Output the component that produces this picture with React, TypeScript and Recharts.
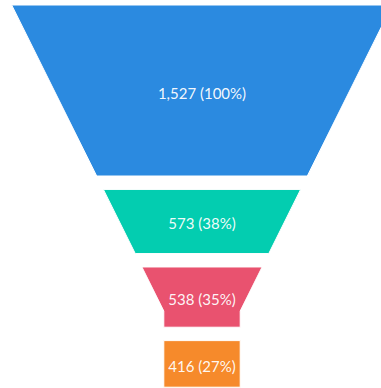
import React from 'react';
import { BarChart, Bar, XAxis, YAxis } from 'recharts';

const STAGES = ['Stage 1', 'Stage 2', 'Stage 3', 'Stage 4'];
const VALUES = [1527, 573, 538, 416];
const COLORS = ['#2b8ae0', '#03cdb0', '#e9526f', '#f68a2b'];

const TOTAL = VALUES.reduce((a, b) => a + b, 0);
const row: Record<string, number | string> = { name: 'Funnel' };
STAGES.forEach((_, i) => {
  row['v' + i] = VALUES[i];
});
const DATA = [row];

// funnel outline geometry (pixels in chart coordinates)
const GAP = 13.4;
const TOP_Y = 5;
const NECK_Y = 311;
const HALF_TOP = 190.3;
const HALF_NECK = 38.2;

const halfWidth = (yy: number) =>
  yy >= NECK_Y
    ? HALF_NECK
    : HALF_TOP - ((HALF_TOP - HALF_NECK) * (yy - TOP_Y)) / (NECK_Y - TOP_Y);

const fmt = (n: number) => n.toLocaleString('en-US');

const Slice = (props: any) => {
  const { x, y, width, height, idx } = props;
  const top = Math.min(y, y + height) + idx * GAP;
  const h = Math.abs(height);
  const bot = top + h;
  const cx = x + width / 2;
  const pts: [number, number][] = [];
  pts.push([cx - halfWidth(top), top]);
  pts.push([cx + halfWidth(top), top]);
  if (top < NECK_Y && bot > NECK_Y) pts.push([cx + HALF_NECK, NECK_Y]);
  pts.push([cx + halfWidth(bot), bot]);
  pts.push([cx - halfWidth(bot), bot]);
  if (top < NECK_Y && bot > NECK_Y) pts.push([cx - HALF_NECK, NECK_Y]);
  const d = 'M' + pts.map((p) => p[0].toFixed(2) + ',' + p[1].toFixed(2)).join('L') + 'Z';
  const pct = Math.round((VALUES[idx] / VALUES[0]) * 100);
  return (
    <g>
      <path d={d} fill={COLORS[idx]} stroke="#ffffff" strokeWidth={1} />
      <text
        x={cx}
        y={top + h / 2 + 8}
        textAnchor="middle"
        fill="#ffffff"
        fillOpacity={0.95}
        fontFamily="Lato, sans-serif"
        fontSize={15}
      >
        {fmt(VALUES[idx]) + ' (' + pct + '%)'}
      </text>
    </g>
  );
};

export default function App() {
  return (
    <div
      style={{
        position: 'fixed',
        left: 0,
        top: 0,
        width: 381,
        height: 388,
        overflow: 'hidden',
        background: '#ffffff',
      }}
    >
      <BarChart
        width={404}
        height={388}
        data={DATA}
        margin={{ top: 5, right: 0, bottom: 41, left: 0 }}
        barCategoryGap={0}
        barGap={0}
      >
        <XAxis dataKey="name" type="category" hide />
        <YAxis type="number" domain={[0, TOTAL]} reversed hide />
        {STAGES.map((s, i) => (
          <Bar
            key={s}
            name={s}
            dataKey={'v' + i}
            stackId="funnel"
            isAnimationActive={false}
            shape={(p: any) => <Slice {...p} idx={i} />}
          />
        ))}
      </BarChart>
    </div>
  );
}
